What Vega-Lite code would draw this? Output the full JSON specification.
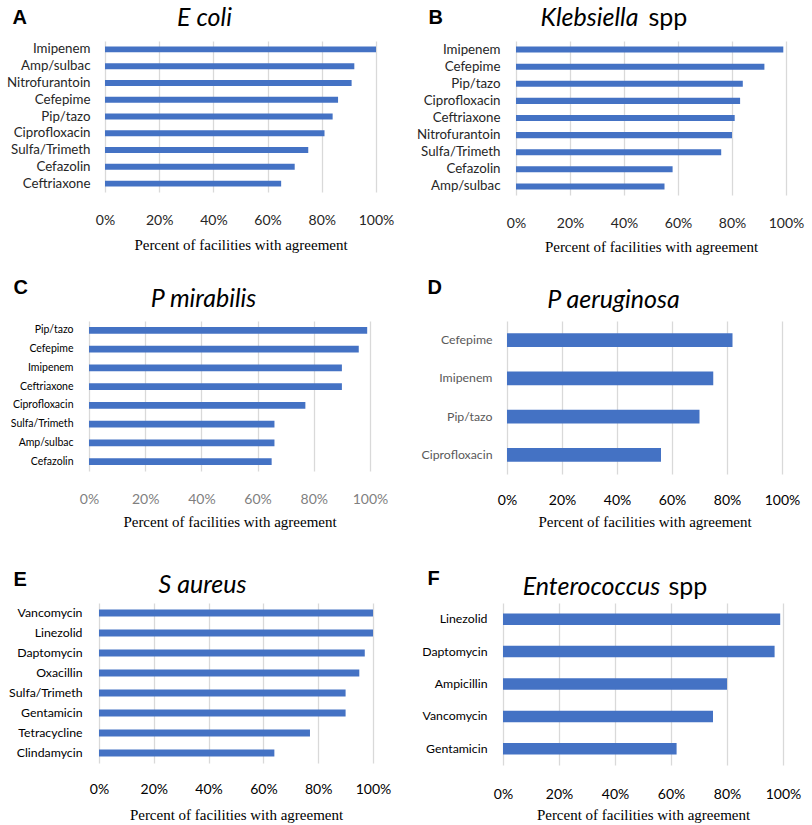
{
  "$schema": "https://vega.github.io/schema/vega-lite/v6.json",
  "autosize": "pad",
  "padding": 5,
  "background": "white",
  "data": {"values": [
    {"panel": "A", "drug": "Imipenem", "pct": 1.00},
    {"panel": "A", "drug": "Amp/sulbac", "pct": 0.92},
    {"panel": "A", "drug": "Nitrofurantoin", "pct": 0.91},
    {"panel": "A", "drug": "Cefepime", "pct": 0.86},
    {"panel": "A", "drug": "Pip/tazo", "pct": 0.84},
    {"panel": "A", "drug": "Ciprofloxacin", "pct": 0.81},
    {"panel": "A", "drug": "Sulfa/Trimeth", "pct": 0.75},
    {"panel": "A", "drug": "Cefazolin", "pct": 0.70},
    {"panel": "A", "drug": "Ceftriaxone", "pct": 0.65},
    {"panel": "B", "drug": "Imipenem", "pct": 0.99},
    {"panel": "B", "drug": "Cefepime", "pct": 0.92},
    {"panel": "B", "drug": "Pip/tazo", "pct": 0.84},
    {"panel": "B", "drug": "Ciprofloxacin", "pct": 0.83},
    {"panel": "B", "drug": "Ceftriaxone", "pct": 0.81},
    {"panel": "B", "drug": "Nitrofurantoin", "pct": 0.80},
    {"panel": "B", "drug": "Sulfa/Trimeth", "pct": 0.76},
    {"panel": "B", "drug": "Cefazolin", "pct": 0.58},
    {"panel": "B", "drug": "Amp/sulbac", "pct": 0.55},
    {"panel": "C", "drug": "Pip/tazo", "pct": 0.99},
    {"panel": "C", "drug": "Cefepime", "pct": 0.96},
    {"panel": "C", "drug": "Imipenem", "pct": 0.90},
    {"panel": "C", "drug": "Ceftriaxone", "pct": 0.90},
    {"panel": "C", "drug": "Ciprofloxacin", "pct": 0.77},
    {"panel": "C", "drug": "Sulfa/Trimeth", "pct": 0.66},
    {"panel": "C", "drug": "Amp/sulbac", "pct": 0.66},
    {"panel": "C", "drug": "Cefazolin", "pct": 0.65},
    {"panel": "D", "drug": "Cefepime", "pct": 0.82},
    {"panel": "D", "drug": "Imipenem", "pct": 0.75},
    {"panel": "D", "drug": "Pip/tazo", "pct": 0.70},
    {"panel": "D", "drug": "Ciprofloxacin", "pct": 0.56},
    {"panel": "E", "drug": "Vancomycin", "pct": 1.00},
    {"panel": "E", "drug": "Linezolid", "pct": 1.00},
    {"panel": "E", "drug": "Daptomycin", "pct": 0.97},
    {"panel": "E", "drug": "Oxacillin", "pct": 0.95},
    {"panel": "E", "drug": "Sulfa/Trimeth", "pct": 0.90},
    {"panel": "E", "drug": "Gentamicin", "pct": 0.90},
    {"panel": "E", "drug": "Tetracycline", "pct": 0.77},
    {"panel": "E", "drug": "Clindamycin", "pct": 0.64},
    {"panel": "F", "drug": "Linezolid", "pct": 0.99},
    {"panel": "F", "drug": "Daptomycin", "pct": 0.97},
    {"panel": "F", "drug": "Ampicillin", "pct": 0.80},
    {"panel": "F", "drug": "Vancomycin", "pct": 0.75},
    {"panel": "F", "drug": "Gentamicin", "pct": 0.62}
  ]},
  "config": {
    "view": {"stroke": null},
    "axis": {"domain": false, "ticks": false, "tickSize": 0, "grid": false, "labelFont": "Lato", "titleFont": "Liberation Serif", "titleFontWeight": "normal", "titleColor": "#000000", "labelOverlap": false, "labelFlush": false},
    "bar": {"color": "#4472C4"}
  },
  "columns": 1,
  "align": "none",
  "spacing": 23,
  "concat": [
    {
      "hconcat": [
        {
          "width": 287, "height": 151,
          "transform": [{"filter": "datum.panel === 'A'"}],
          "layer": [
            {"mark": {"type": "bar", "color": "#4472C4"},
             "encoding": {
               "x": {"field": "pct", "type": "quantitative", "scale": {"domain": [0, 1], "range": [16, 287]}, "axis": {"values": [0, 0.2, 0.4, 0.6, 0.8, 1], "format": ".0%", "grid": true, "gridColor": "#D9D9D9", "gridWidth": 1.3, "labelFontSize": 14, "labelColor": "#262626", "labelBaseline": "alphabetic", "labelPadding": 32, "title": "Percent of facilities with agreement", "titleFontSize": 15, "titleBaseline": "alphabetic", "titleY": 57}},
               "y": {"field": "drug", "type": "nominal", "sort": null, "scale": {"paddingInner": 0.645, "paddingOuter": 0.3225}, "axis": {"offset": -16, "labelFontSize": 13.3, "labelColor": "#262626", "labelPadding": 15, "labelLimit": 200, "title": "A", "titleAngle": 0, "titleAlign": "left", "titleBaseline": "alphabetic", "titleX": -93, "titleY": -18, "titleFont": "Liberation Sans", "titleFontSize": 20, "titleFontWeight": "bold"}}
             }},
            {"mark": {"type": "bar", "opacity": 0},
             "encoding": {
               "x": {"field": "pct", "type": "quantitative", "axis": {"orient": "top", "labels": false, "title": ".", "titleOpacity": 0, "titleFontSize": 8, "titleAngle": 0, "titleAlign": "left", "titleBaseline": "alphabetic", "titleX": -84, "titleY": 0}},
               "y": {"field": "drug", "type": "nominal", "sort": null, "axis": {"orient": "right", "labels": false, "title": "E coli", "titleAngle": 0, "titleAlign": "center", "titleBaseline": "alphabetic", "titleX": -172, "titleY": -16, "titleFont": "Lato", "titleFontStyle": "italic", "titleFontSize": 25}}
             }}
          ],
          "resolve": {"axis": {"x": "independent", "y": "independent"}}
        },
        {
          "width": 270, "height": 154,
          "transform": [{"filter": "datum.panel === 'B'"}],
          "layer": [
            {"mark": {"type": "bar", "color": "#4472C4"},
             "encoding": {
               "x": {"field": "pct", "type": "quantitative", "scale": {"domain": [0, 1]}, "axis": {"values": [0, 0.2, 0.4, 0.6, 0.8, 1], "format": ".0%", "grid": true, "gridColor": "#D9D9D9", "gridWidth": 1.3, "labelFontSize": 14, "labelColor": "#262626", "labelBaseline": "alphabetic", "labelPadding": 32, "title": "Percent of facilities with agreement", "titleFontSize": 15, "titleBaseline": "alphabetic", "titleY": 56}},
               "y": {"field": "drug", "type": "nominal", "sort": null, "scale": {"paddingInner": 0.645, "paddingOuter": 0.3225}, "axis": {"labelFontSize": 13.3, "labelColor": "#262626", "labelPadding": 16, "labelLimit": 200, "title": "B", "titleAngle": 0, "titleAlign": "left", "titleBaseline": "alphabetic", "titleX": -88, "titleY": -18, "titleFont": "Liberation Sans", "titleFontSize": 20, "titleFontWeight": "bold"}}
             }},
            {"mark": {"type": "bar", "opacity": 0},
             "encoding": {
               "x": {"field": "pct", "type": "quantitative", "axis": {"orient": "top", "labels": false, "title": "spp", "titleAngle": 0, "titleAlign": "left", "titleBaseline": "alphabetic", "titleX": 132, "titleY": -16, "titleFont": "Lato", "titleFontSize": 25}},
               "y": {"field": "drug", "type": "nominal", "sort": null, "axis": {"orient": "right", "labels": false, "title": "Klebsiella", "titleAngle": 0, "titleAlign": "center", "titleBaseline": "alphabetic", "titleX": -197, "titleY": -16, "titleFont": "Lato", "titleFontStyle": "italic", "titleFontSize": 25}}
             }}
          ],
          "resolve": {"axis": {"x": "independent", "y": "independent"}}
        }
      ],
      "spacing": 140,
      "bounds": "flush"
    },
    {
      "columns": 1,
      "align": "none",
      "spacing": 39,
      "concat": [
        {
          "hconcat": [
            {
              "width": 281, "height": 150,
              "transform": [{"filter": "datum.panel === 'C'"}],
              "layer": [
                {"mark": {"type": "bar", "color": "#4472C4"},
                 "encoding": {
                   "x": {"field": "pct", "type": "quantitative", "scale": {"domain": [0, 1]}, "axis": {"values": [0, 0.2, 0.4, 0.6, 0.8, 1], "format": ".0%", "grid": true, "gridColor": "#D9D9D9", "gridWidth": 1.3, "labelFontSize": 14, "labelColor": "#7F7F7F", "labelBaseline": "alphabetic", "labelPadding": 32, "title": "Percent of facilities with agreement", "titleFontSize": 15, "titleBaseline": "alphabetic", "titleY": 55}},
                   "y": {"field": "drug", "type": "nominal", "sort": null, "scale": {"paddingInner": 0.645, "paddingOuter": 0.3225}, "axis": {"labelFontSize": 10.5, "labelColor": "#000000", "labelPadding": 16, "labelLimit": 200, "title": "C", "titleAngle": 0, "titleAlign": "left", "titleBaseline": "alphabetic", "titleX": -76, "titleY": -28, "titleFont": "Liberation Sans", "titleFontSize": 20, "titleFontWeight": "bold"}}
                 }},
                {"mark": {"type": "bar", "opacity": 0},
                 "encoding": {
                   "x": {"field": "pct", "type": "quantitative", "axis": {"orient": "top", "labels": false, "title": ".", "titleOpacity": 0, "titleFontSize": 8, "titleAngle": 0, "titleAlign": "left", "titleBaseline": "alphabetic", "titleX": -84, "titleY": 0}},
                   "y": {"field": "drug", "type": "nominal", "sort": null, "axis": {"orient": "right", "labels": false, "title": "P mirabilis", "titleAngle": 0, "titleAlign": "center", "titleBaseline": "alphabetic", "titleX": -167, "titleY": -15, "titleFont": "Lato", "titleFontStyle": "italic", "titleFontSize": 25}}
                 }}
              ],
              "resolve": {"axis": {"x": "independent", "y": "independent"}}
            },
            {
              "width": 275, "height": 153,
              "transform": [{"filter": "datum.panel === 'D'"}],
              "layer": [
                {"mark": {"type": "bar", "color": "#4472C4"},
                 "encoding": {
                   "x": {"field": "pct", "type": "quantitative", "scale": {"domain": [0, 1]}, "axis": {"values": [0, 0.2, 0.4, 0.6, 0.8, 1], "format": ".0%", "grid": true, "gridColor": "#D9D9D9", "gridWidth": 1.3, "labelFontSize": 14, "labelColor": "#000000", "labelBaseline": "alphabetic", "labelPadding": 30, "title": "Percent of facilities with agreement", "titleFontSize": 15, "titleBaseline": "alphabetic", "titleY": 52}},
                   "y": {"field": "drug", "type": "nominal", "sort": null, "scale": {"paddingInner": 0.645, "paddingOuter": 0.3225}, "axis": {"labelFontSize": 12.3, "labelColor": "#595959", "labelPadding": 15, "labelLimit": 200, "title": "D", "titleAngle": 0, "titleAlign": "left", "titleBaseline": "alphabetic", "titleX": -80, "titleY": -28, "titleFont": "Liberation Sans", "titleFontSize": 20, "titleFontWeight": "bold"}}
                 }},
                {"mark": {"type": "bar", "opacity": 0},
                 "encoding": {
                   "x": {"field": "pct", "type": "quantitative", "axis": null},
                   "y": {"field": "drug", "type": "nominal", "sort": null, "axis": {"orient": "right", "labels": false, "title": "P aeruginosa", "titleAngle": 0, "titleAlign": "center", "titleBaseline": "alphabetic", "titleX": -169, "titleY": -14, "titleFont": "Lato", "titleFontStyle": "italic", "titleFontSize": 25}}
                 }}
              ],
              "resolve": {"axis": {"x": "independent", "y": "independent"}}
            }
          ],
          "spacing": 137,
          "bounds": "flush"
        },
        {
          "hconcat": [
            {
              "width": 284, "height": 160,
              "transform": [{"filter": "datum.panel === 'E'"}],
              "layer": [
                {"mark": {"type": "bar", "color": "#4472C4"},
                 "encoding": {
                   "x": {"field": "pct", "type": "quantitative", "scale": {"domain": [0, 1], "range": [10, 284]}, "axis": {"values": [0, 0.2, 0.4, 0.6, 0.8, 1], "format": ".0%", "grid": true, "gridColor": "#D9D9D9", "gridWidth": 1.3, "labelFontSize": 14, "labelColor": "#000000", "labelBaseline": "alphabetic", "labelPadding": 30, "title": "Percent of facilities with agreement", "titleFontSize": 15, "titleBaseline": "alphabetic", "titleY": 56}},
                   "y": {"field": "drug", "type": "nominal", "sort": null, "scale": {"paddingInner": 0.645, "paddingOuter": 0.3225}, "axis": {"offset": -10, "labelFontSize": 12.3, "labelColor": "#000000", "labelPadding": 17, "labelLimit": 200, "title": "E", "titleAngle": 0, "titleAlign": "left", "titleBaseline": "alphabetic", "titleX": -86, "titleY": -18, "titleFont": "Liberation Sans", "titleFontSize": 20, "titleFontWeight": "bold"}}
                 }},
                {"mark": {"type": "bar", "opacity": 0},
                 "encoding": {
                   "x": {"field": "pct", "type": "quantitative", "axis": {"orient": "top", "labels": false, "title": ".", "titleOpacity": 0, "titleFontSize": 8, "titleAngle": 0, "titleAlign": "left", "titleBaseline": "alphabetic", "titleX": -84, "titleY": 0}},
                   "y": {"field": "drug", "type": "nominal", "sort": null, "axis": {"orient": "right", "labels": false, "title": "S aureus", "titleAngle": 0, "titleAlign": "center", "titleBaseline": "alphabetic", "titleX": -171, "titleY": -11, "titleFont": "Lato", "titleFontStyle": "italic", "titleFontSize": 25}}
                 }}
              ],
              "resolve": {"axis": {"x": "independent", "y": "independent"}}
            },
            {
              "width": 280, "height": 162,
              "transform": [{"filter": "datum.panel === 'F'"}],
              "layer": [
                {"mark": {"type": "bar", "color": "#4472C4"},
                 "encoding": {
                   "x": {"field": "pct", "type": "quantitative", "scale": {"domain": [0, 1]}, "axis": {"values": [0, 0.2, 0.4, 0.6, 0.8, 1], "format": ".0%", "grid": true, "gridColor": "#D9D9D9", "gridWidth": 1.3, "labelFontSize": 14, "labelColor": "#000000", "labelBaseline": "alphabetic", "labelPadding": 33, "title": "Percent of facilities with agreement", "titleFontSize": 15, "titleBaseline": "alphabetic", "titleY": 54}},
                   "y": {"field": "drug", "type": "nominal", "sort": null, "scale": {"paddingInner": 0.645, "paddingOuter": 0.3225}, "axis": {"labelFontSize": 12.3, "labelColor": "#000000", "labelPadding": 16, "labelLimit": 200, "title": "F", "titleAngle": 0, "titleAlign": "left", "titleBaseline": "alphabetic", "titleX": -76, "titleY": -19, "titleFont": "Liberation Sans", "titleFontSize": 20, "titleFontWeight": "bold"}}
                 }},
                {"mark": {"type": "bar", "opacity": 0},
                 "encoding": {
                   "x": {"field": "pct", "type": "quantitative", "axis": {"orient": "top", "labels": false, "title": "spp", "titleAngle": 0, "titleAlign": "left", "titleBaseline": "alphabetic", "titleX": 165, "titleY": -9, "titleFont": "Lato", "titleFontSize": 25}},
                   "y": {"field": "drug", "type": "nominal", "sort": null, "axis": {"orient": "right", "labels": false, "title": "Enterococcus", "titleAngle": 0, "titleAlign": "center", "titleBaseline": "alphabetic", "titleX": -192, "titleY": -9, "titleFont": "Lato", "titleFontStyle": "italic", "titleFontSize": 25}}
                 }}
              ],
              "resolve": {"axis": {"x": "independent", "y": "independent"}}
            }
          ],
          "spacing": 130,
          "bounds": "flush"
        }
      ]
    }
  ]
}
